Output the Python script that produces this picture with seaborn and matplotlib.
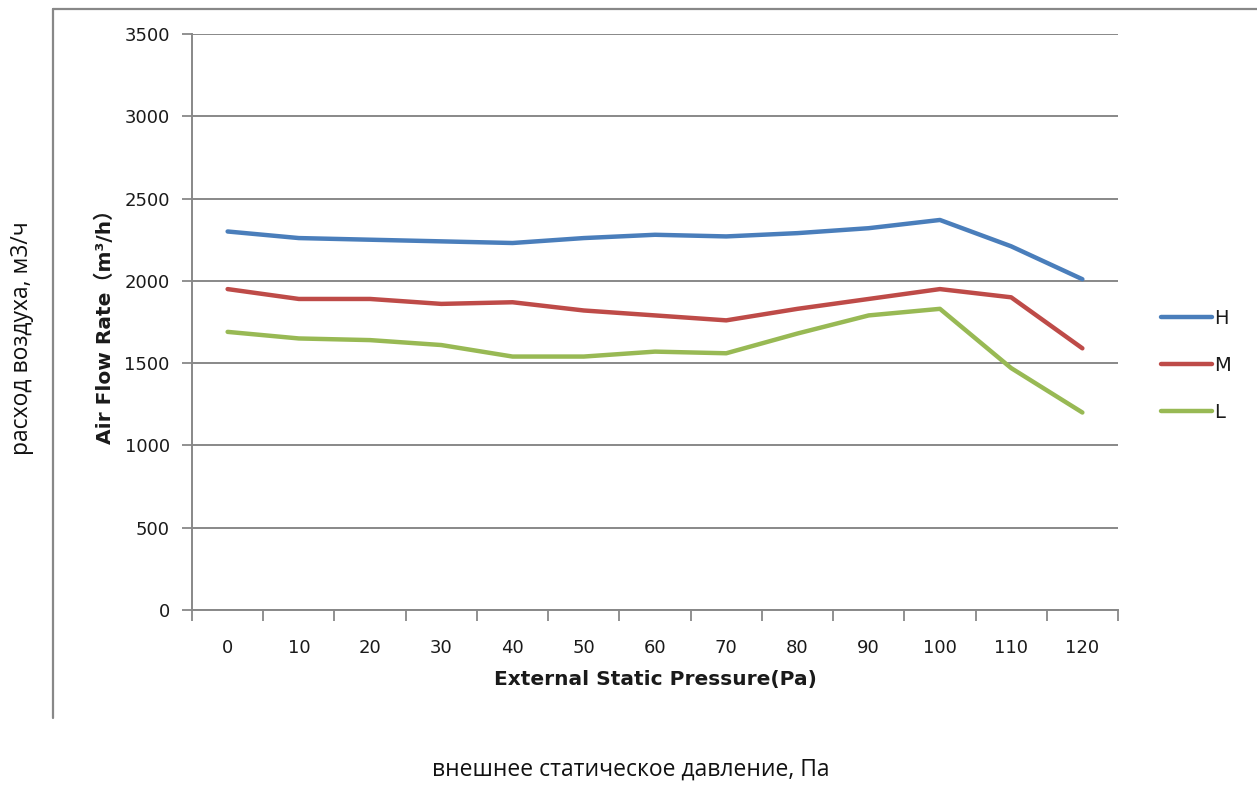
import numpy as np
import pandas as pd
import matplotlib
matplotlib.use("Agg")
import matplotlib.pyplot as plt
import seaborn as sns
from matplotlib.lines import Line2D

pressure = ["0", "10", "20", "30", "40", "50", "60", "70", "80", "90", "100", "110", "120"]
flow_H = [2300, 2260, 2250, 2240, 2230, 2260, 2280, 2270, 2290, 2320, 2370, 2210, 2010]
flow_M = [1950, 1890, 1890, 1860, 1870, 1820, 1790, 1760, 1830, 1890, 1950, 1900, 1590]
flow_L = [1690, 1650, 1640, 1610, 1540, 1540, 1570, 1560, 1680, 1790, 1830, 1470, 1200]
series_names = ["H", "M", "L"]
y_ticks = [0, 500, 1000, 1500, 2000, 2500, 3000, 3500]

df = pd.DataFrame({
    "pressure": pressure * 3,
    "flow": flow_H + flow_M + flow_L,
    "speed": [s for s in series_names for _ in pressure],
})

sns.set_theme(style="white")
plt.rcParams["font.family"] = ["DejaVu Sans", "Noto Sans CJK SC"]

grid_c = "#888888"
fig = plt.figure(figsize=(12.57, 7.85), dpi=100)
ax = fig.add_axes([192 / 1257, 1 - 610 / 785, (1118 - 192) / 1257, (610 - 34) / 785])

palette = {"H": "#4A7EBB", "M": "#BE4B48", "L": "#98B954"}
sns.lineplot(data=df, x="pressure", y="flow", hue="speed", palette=palette,
             linewidth=3.2, ax=ax, sort=False, legend=True)

ax.set_ylim(0, 3500)
ax.set_xlim(-0.5, len(pressure) - 0.5)
ax.set_yticks(y_ticks)
ax.set_yticklabels([str(v) for v in y_ticks], fontsize=13, color="#1a1a1a")
ax.set_xticks(range(len(pressure)))
ax.set_xticklabels(pressure, fontsize=13, color="#1a1a1a")
ax.set_xticks(np.arange(-0.5, len(pressure), 1.0), minor=True)
ax.tick_params(axis="x", which="major", bottom=True, length=0, pad=21)
ax.tick_params(axis="x", which="minor", bottom=True, length=8, width=1.3, color=grid_c, direction="out")
ax.tick_params(axis="y", which="major", left=True, length=7, width=1.3, color=grid_c, direction="out", pad=9)
ax.yaxis.grid(True, color=grid_c, linewidth=1.4)
ax.set_axisbelow(True)
for s in ["top", "right"]:
    ax.spines[s].set_visible(False)
for s in ["left", "bottom"]:
    ax.spines[s].set_color(grid_c)
    ax.spines[s].set_linewidth(1.4)

ax.set_xlabel("External Static Pressure(Pa)", fontsize=14.5, fontweight="bold",
              color="#1a1a1a", labelpad=9, family=["DejaVu Sans", "Noto Sans CJK SC"])
ax.set_ylabel("Air Flow Rate（m³/h）", fontsize=14.5, fontweight="bold",
              color="#1a1a1a", labelpad=7, family=["DejaVu Sans", "Noto Sans CJK SC"])

leg = ax.legend(loc="center left", bbox_to_anchor=(1.028, 0.425), frameon=False,
                handlelength=2.6, handletextpad=0.1, labelspacing=1.45,
                fontsize=14)
for t in leg.get_texts():
    t.set_color("#1a1a1a")

# outer frame lines
fig.add_artist(Line2D([52.5 / 1257, 52.5 / 1257], [1 - 718 / 785, 1 - 8.5 / 785],
                      transform=fig.transFigure, color=grid_c, linewidth=1.6))
fig.add_artist(Line2D([52.5 / 1257, 1.0], [1 - 8.5 / 785, 1 - 8.5 / 785],
                      transform=fig.transFigure, color=grid_c, linewidth=1.6))

fig.text(22 / 1257, 1 - 338 / 785, "расход воздуха, м3/ч", rotation=90,
         ha="center", va="center", fontsize=16.5, color="#111111", family="Open Sans")
fig.text(631 / 1257, 1 - 770 / 785, "внешнее статическое давление, Па",
         ha="center", va="center", fontsize=16.5, color="#111111", family="Open Sans")

fig.savefig("out.png", dpi=100)
